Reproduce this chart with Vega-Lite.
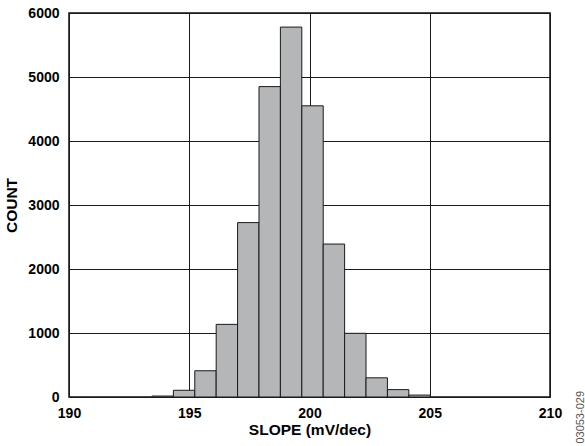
{
  "$schema": "https://vega.github.io/schema/vega-lite/v6.json",
  "width": 481,
  "height": 384,
  "autosize": {"type": "none"},
  "padding": {"left": 69, "top": 13, "right": 35, "bottom": 49},
  "title": {
    "text": "03053-029",
    "orient": "right",
    "anchor": "end",
    "frame": "group",
    "angle": -90,
    "offset": 2,
    "dx": 6,
    "fontSize": 11,
    "fontWeight": "normal",
    "font": "Liberation Sans",
    "color": "#555555"
  },
  "data": {
    "values": [
      {"lo": 193.45, "hi": 194.34, "count": 15},
      {"lo": 194.34, "hi": 195.23, "count": 105},
      {"lo": 195.23, "hi": 196.12, "count": 410},
      {"lo": 196.12, "hi": 197.01, "count": 1135},
      {"lo": 197.01, "hi": 197.9, "count": 2725},
      {"lo": 197.9, "hi": 198.79, "count": 4850},
      {"lo": 198.79, "hi": 199.68, "count": 5780},
      {"lo": 199.68, "hi": 200.57, "count": 4550},
      {"lo": 200.57, "hi": 201.46, "count": 2390},
      {"lo": 201.46, "hi": 202.35, "count": 995},
      {"lo": 202.35, "hi": 203.24, "count": 300},
      {"lo": 203.24, "hi": 204.13, "count": 115},
      {"lo": 204.13, "hi": 205.02, "count": 30}
    ]
  },
  "mark": {"type": "rect", "fill": "#b5b6b8", "stroke": "#1a1a1a", "strokeWidth": 1},
  "encoding": {
    "x": {
      "field": "lo",
      "type": "quantitative",
      "title": "SLOPE (mV/dec)",
      "scale": {"domain": [190, 210], "nice": false, "zero": false},
      "axis": {"values": [190, 195, 200, 205, 210], "format": "d"}
    },
    "x2": {"field": "hi"},
    "y": {
      "field": "count",
      "type": "quantitative",
      "title": "COUNT",
      "scale": {"domain": [0, 6000], "nice": false},
      "axis": {"values": [0, 1000, 2000, 3000, 4000, 5000, 6000], "format": "d"}
    },
    "y2": {"datum": 0}
  },
  "config": {
    "view": {"stroke": "#111111", "strokeWidth": 1.5},
    "axis": {
      "domain": false,
      "ticks": false,
      "grid": true,
      "gridColor": "#1a1a1a",
      "gridWidth": 1,
      "gridOpacity": 1,
      "labelFont": "Liberation Sans",
      "labelFontWeight": "bold",
      "labelFontSize": 14,
      "labelColor": "#000000",
      "titleFont": "Liberation Sans",
      "titleFontWeight": "bold",
      "titleFontSize": 15.5,
      "titleColor": "#000000"
    },
    "axisX": {"labelPadding": 9, "titlePadding": 2, "labelFlush": false},
    "axisY": {"labelPadding": 10, "titlePadding": 8, "labelBaseline": "middle"}
  }
}
